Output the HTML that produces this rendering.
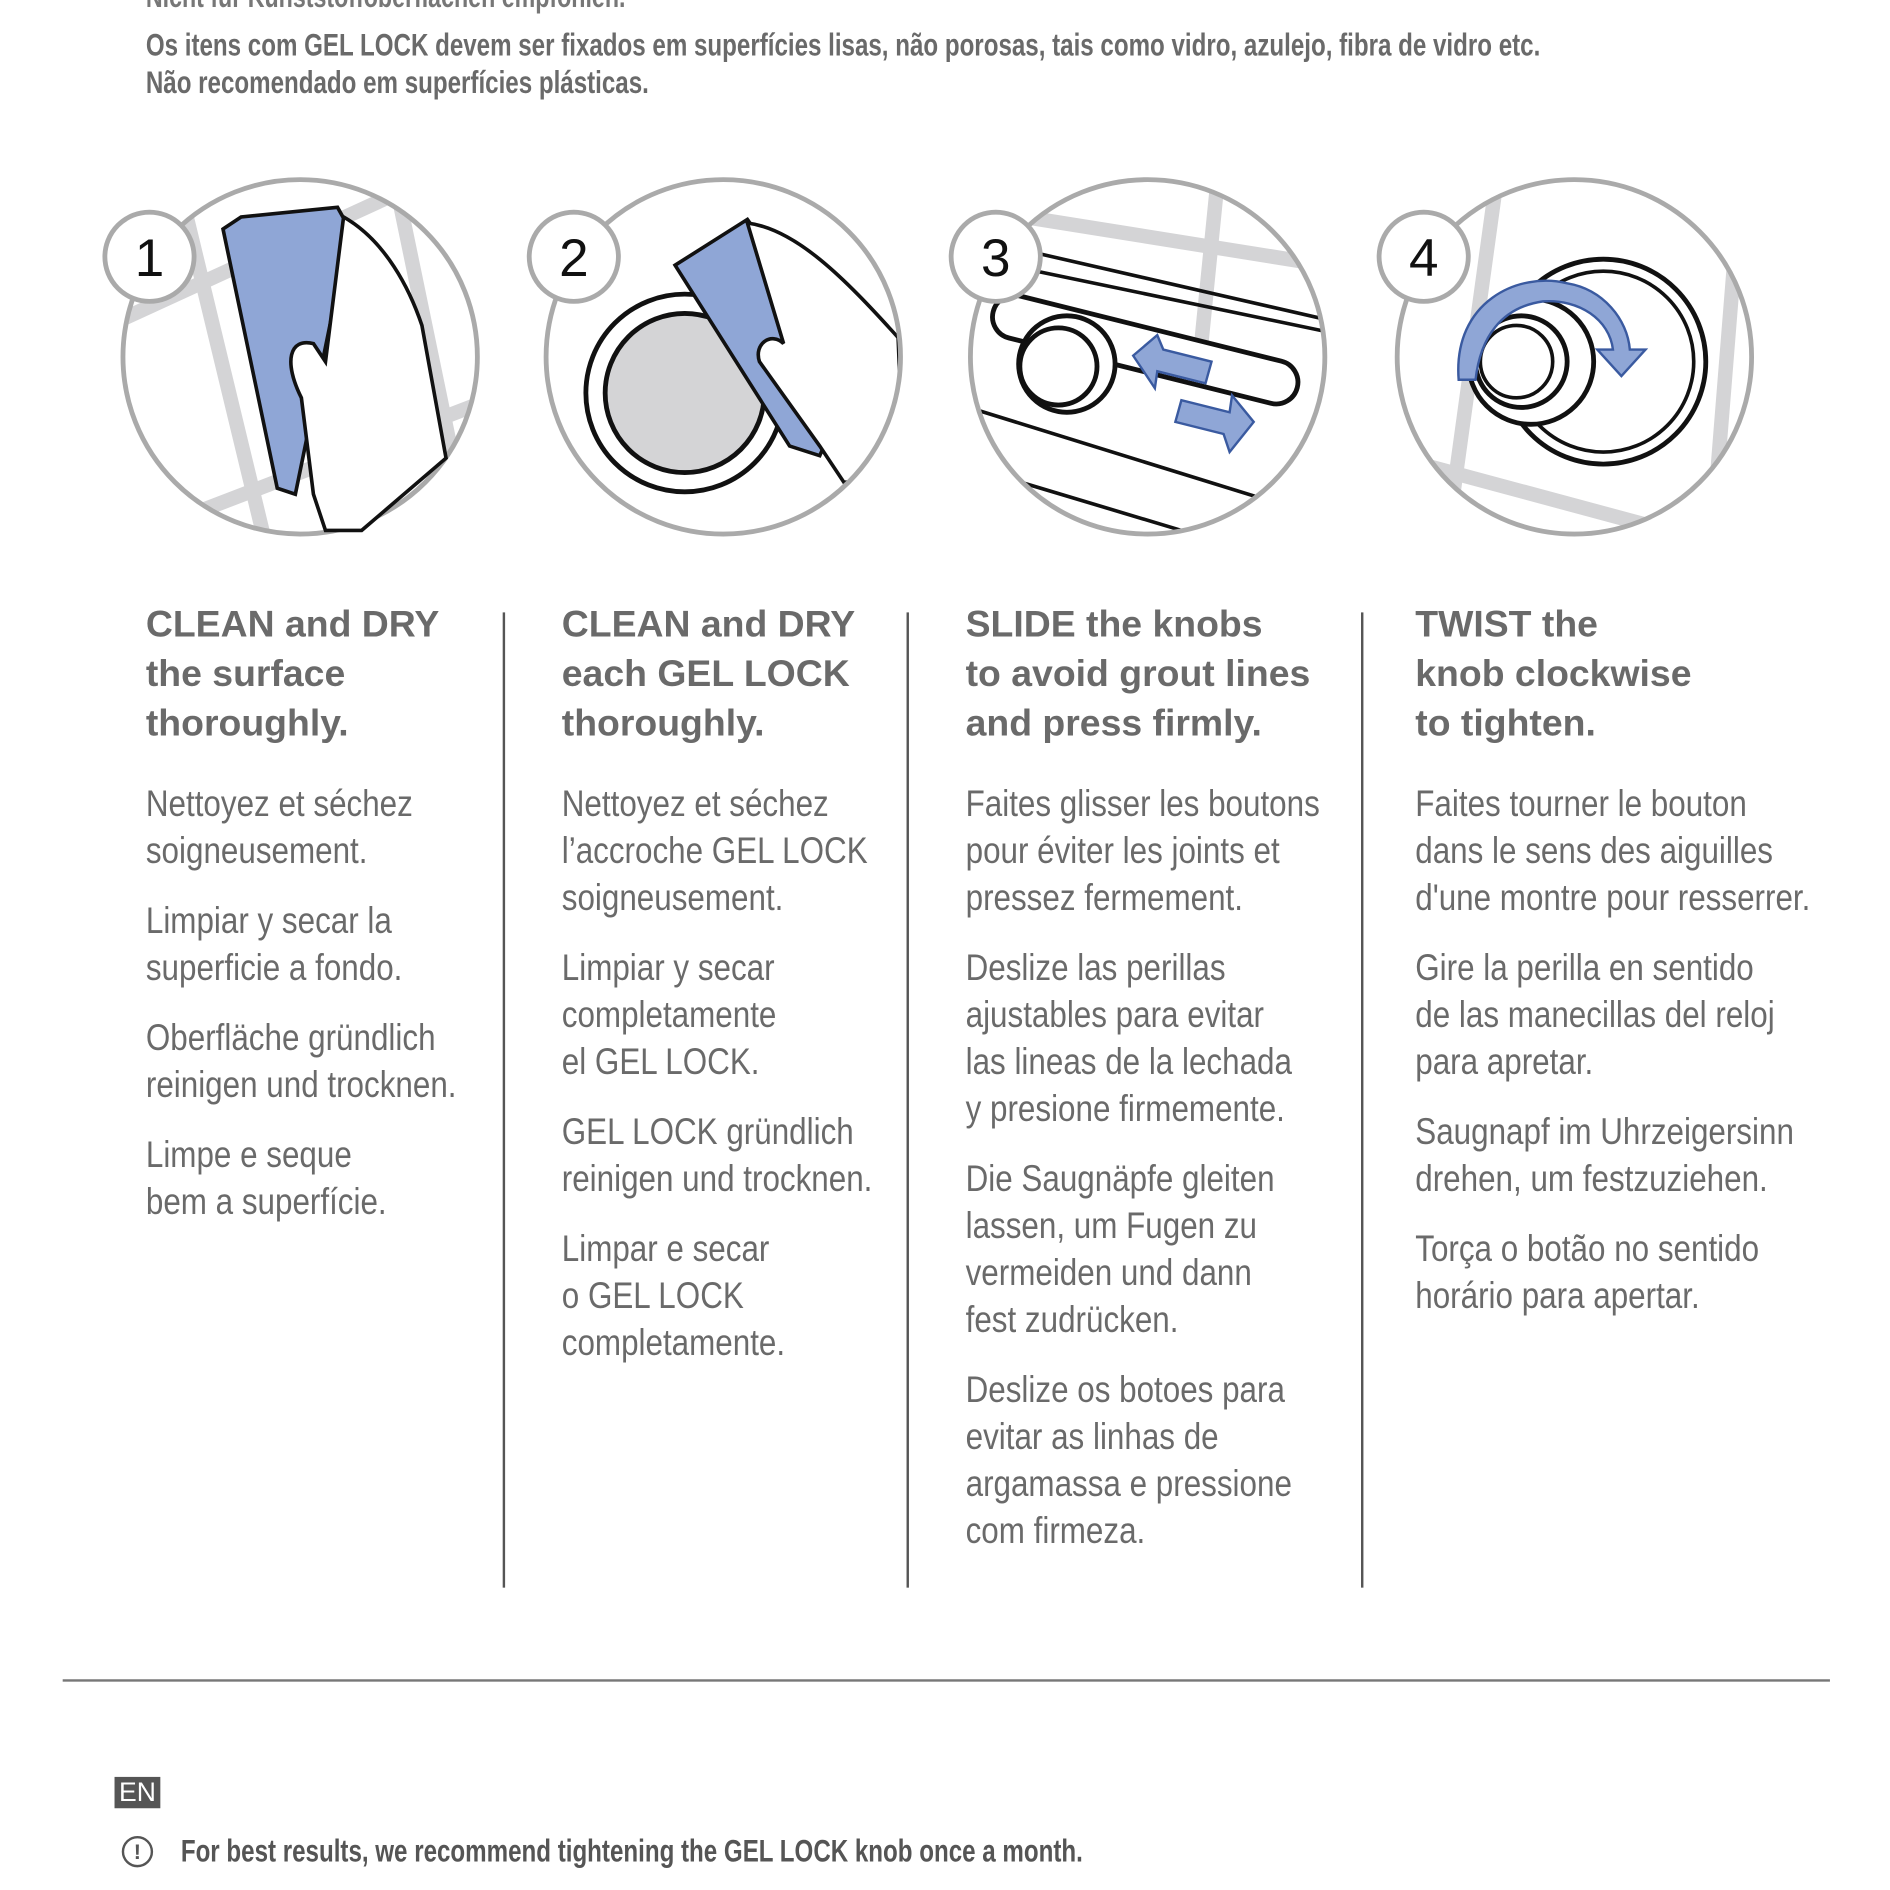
<!DOCTYPE html>
<html><head><meta charset="utf-8"><style>
html,body{margin:0;padding:0;background:#fff;width:1890px;height:1890px;overflow:hidden}
#w{width:1568px;height:1568px;transform:scale(1.2055);transform-origin:0 0;position:relative}
.t{position:absolute;font-family:"Liberation Sans",sans-serif;color:#666;white-space:nowrap;transform:scaleX(0.77);transform-origin:0 0}
.h{position:absolute;font-family:"Liberation Sans",sans-serif;font-weight:bold;color:#6a6a6a;font-size:31px;line-height:41px}
.b{position:absolute;font-family:"Liberation Sans",sans-serif;color:#6a6a6a;font-size:31px;line-height:39px;white-space:nowrap;transform:scaleX(0.84);transform-origin:0 0}
.b p{margin:0 0 19px 0}
.v{position:absolute;width:2px;background:#555;top:508px;height:809px}
</style></head><body><div id="w">
<div class="t" style="left:121px;top:-16px;font-size:25px;font-weight:bold;color:#777">Nicht für Kunststoffoberflächen empfohlen.</div>
<div class="t" style="left:121px;top:22px;font-size:26px;font-weight:bold;line-height:31px;color:#6a6a6a">Os itens com GEL LOCK devem ser fixados em superfícies lisas, não porosas, tais como vidro, azulejo, fibra de vidro etc.<br>Não recomendado em superfícies plásticas.</div>

<svg style="position:absolute;left:0;top:0" width="1560" height="470" viewBox="0 0 1560 470">
<defs>
<clipPath id="c1"><circle cx="249" cy="296" r="147"/></clipPath>
<clipPath id="c2"><circle cx="600" cy="296" r="147"/></clipPath>
<clipPath id="c3"><circle cx="952" cy="296" r="147"/></clipPath>
<clipPath id="c4"><circle cx="1306" cy="296" r="147"/></clipPath>
</defs>
<g clip-path="url(#c1)" stroke="#d4d4d6" stroke-width="12" fill="none">
<line x1="150" y1="160" x2="220" y2="450"/><line x1="330" y1="160" x2="390" y2="450"/><line x1="90" y1="270" x2="330" y2="160"/><line x1="150" y1="430" x2="410" y2="330"/>
</g>
<circle cx="249" cy="296" r="147" fill="none" stroke="#aaa" stroke-width="4"/>
<path d="M185 190 L200 180 L280 172 L290 190 L245 410 L230 405 Z" fill="#8fa6d6" stroke="#111" stroke-width="3"/>
<path d="M285 180 C320 200 340 240 350 270 L370 380 L300 440 L270 440 L260 410 L250 330 C235 300 240 280 260 285 L270 300 Z" fill="#fff" stroke="#111" stroke-width="3"/>
<g clip-path="url(#c2)">
<circle cx="568" cy="326" r="82" fill="none" stroke="#111" stroke-width="4"/>
<circle cx="568" cy="326" r="66" fill="#d4d4d6" stroke="#111" stroke-width="4"/>
<path d="M560 220 L620 182 L710 310 L680 378 L655 370 Z" fill="#8fa6d6" stroke="#111" stroke-width="3"/>
<path d="M620 185 C660 190 700 230 745 280 L750 400 L700 400 L680 370 L630 300 C625 285 640 275 650 285 Z" fill="#fff" stroke="#111" stroke-width="3"/>
</g>
<circle cx="600" cy="296" r="147" fill="none" stroke="#aaa" stroke-width="4"/>
<g clip-path="url(#c3)">
<g stroke="#d4d4d6" stroke-width="12"><line x1="850" y1="180" x2="1100" y2="220"/><line x1="1010" y1="150" x2="995" y2="300"/></g>
<line x1="860" y1="210" x2="1100" y2="265" stroke="#111" stroke-width="3"/>
<line x1="860" y1="225" x2="1100" y2="275" stroke="#111" stroke-width="3"/>
<line x1="810" y1="340" x2="1100" y2="430" stroke="#111" stroke-width="3"/>
<line x1="830" y1="395" x2="980" y2="440" stroke="#111" stroke-width="3"/>
<rect x="820" y="272" width="260" height="36" rx="18" transform="rotate(14 950 290)" fill="#fff" stroke="#111" stroke-width="4"/>
<circle cx="885" cy="302" r="40" fill="#fff" stroke="#111" stroke-width="4"/>
<circle cx="878" cy="304" r="32" fill="#fff" stroke="#111" stroke-width="4"/>
<path d="M940 295 L960 278 L965 290 L1005 300 L1000 318 L960 308 L958 322 Z" fill="#8fa6d6" stroke="#3a5aa0" stroke-width="2"/>
<path d="M1040 350 L1020 375 L1015 360 L975 350 L980 332 L1020 342 L1022 328 Z" fill="#8fa6d6" stroke="#3a5aa0" stroke-width="2"/>
</g>
<circle cx="952" cy="296" r="147" fill="none" stroke="#aaa" stroke-width="4"/>
<g clip-path="url(#c4)">
<g stroke="#d4d4d6" stroke-width="12"><line x1="1240" y1="160" x2="1200" y2="450"/><line x1="1440" y1="200" x2="1420" y2="450"/><line x1="1160" y1="380" x2="1420" y2="450"/></g>
<circle cx="1330" cy="300" r="85" fill="#fff" stroke="#111" stroke-width="4"/>
<circle cx="1330" cy="300" r="75" fill="none" stroke="#111" stroke-width="3"/>
<circle cx="1270" cy="300" r="52" fill="#fff" stroke="#111" stroke-width="4"/>
<circle cx="1262" cy="300" r="38" fill="#fff" stroke="#111" stroke-width="4"/>
<circle cx="1258" cy="300" r="30" fill="#fff" stroke="#111" stroke-width="3"/>
<path d="M1210 315 C1205 250 1260 225 1300 235 C1330 240 1350 265 1352 290 L1365 290 L1345 312 L1325 290 L1338 290 C1335 265 1310 248 1280 250 C1245 255 1228 280 1224 315 Z" fill="#8fa6d6" stroke="#3a5aa0" stroke-width="2"/>
</g>
<circle cx="1306" cy="296" r="147" fill="none" stroke="#aaa" stroke-width="4"/>
<g font-family="Liberation Sans,sans-serif" font-size="44" fill="#111" text-anchor="middle">
<circle cx="124" cy="213" r="37" fill="#fff" stroke="#aaa" stroke-width="4"/><text x="124" y="229">1</text>
<circle cx="476" cy="213" r="37" fill="#fff" stroke="#aaa" stroke-width="4"/><text x="476" y="229">2</text>
<circle cx="826" cy="213" r="37" fill="#fff" stroke="#aaa" stroke-width="4"/><text x="826" y="229">3</text>
<circle cx="1181" cy="213" r="37" fill="#fff" stroke="#aaa" stroke-width="4"/><text x="1181" y="229">4</text>
</g>
</svg>

<div class="v" style="left:417px"></div><div class="v" style="left:752px"></div><div class="v" style="left:1129px"></div>

<div class="h" style="left:121px;top:497px">CLEAN and DRY<br>the surface<br>thoroughly.</div>
<div class="h" style="left:466px;top:497px">CLEAN and DRY<br>each GEL LOCK<br>thoroughly.</div>
<div class="h" style="left:801px;top:497px">SLIDE the knobs<br>to avoid grout lines<br>and press firmly.</div>
<div class="h" style="left:1174px;top:497px">TWIST the<br>knob clockwise<br>to tighten.</div>

<div class="b" style="left:121px;top:647px"><p>Nettoyez et séchez<br>soigneusement.</p><p>Limpiar y secar la<br>superficie a fondo.</p><p>Oberfläche gründlich<br>reinigen und trocknen.</p><p>Limpe e seque<br>bem a superfície.</p></div>
<div class="b" style="left:466px;top:647px"><p>Nettoyez et séchez<br>l’accroche GEL LOCK<br>soigneusement.</p><p>Limpiar y secar<br>completamente<br>el GEL LOCK.</p><p>GEL LOCK gründlich<br>reinigen und trocknen.</p><p>Limpar e secar<br>o GEL LOCK<br>completamente.</p></div>
<div class="b" style="left:801px;top:647px"><p>Faites glisser les boutons<br>pour éviter les joints et<br>pressez fermement.</p><p>Deslize las perillas<br>ajustables para evitar<br>las lineas de la lechada<br>y presione firmemente.</p><p>Die Saugnäpfe gleiten<br>lassen, um Fugen zu<br>vermeiden und dann<br>fest zudrücken.</p><p>Deslize os botoes para<br>evitar as linhas de<br>argamassa e pressione<br>com firmeza.</p></div>
<div class="b" style="left:1174px;top:647px"><p>Faites tourner le bouton<br>dans le sens des aiguilles<br>d'une montre pour resserrer.</p><p>Gire la perilla en sentido<br>de las manecillas del reloj<br>para apretar.</p><p>Saugnapf im Uhrzeigersinn<br>drehen, um festzuziehen.</p><p>Torça o botão no sentido<br>horário para apertar.</p></div>

<div style="position:absolute;left:52px;top:1393px;width:1466px;height:2px;background:#777"></div>
<div style="position:absolute;left:95px;top:1474px;width:38px;height:26px;background:#555;color:#fff;font-family:'Liberation Sans',sans-serif;font-size:22px;line-height:26px;text-align:center">EN</div>
<div style="position:absolute;left:101px;top:1523px;width:26px;height:26px;border:2.5px solid #555;border-radius:50%;box-sizing:border-box;text-align:center;font-family:'Liberation Sans',sans-serif;font-weight:bold;font-size:18px;line-height:22px;color:#555">!</div>
<div class="t" style="left:150px;top:1520px;font-size:26px;font-weight:bold;color:#555">For best results, we recommend tightening the GEL LOCK knob once a month.</div>
</div></body></html>
